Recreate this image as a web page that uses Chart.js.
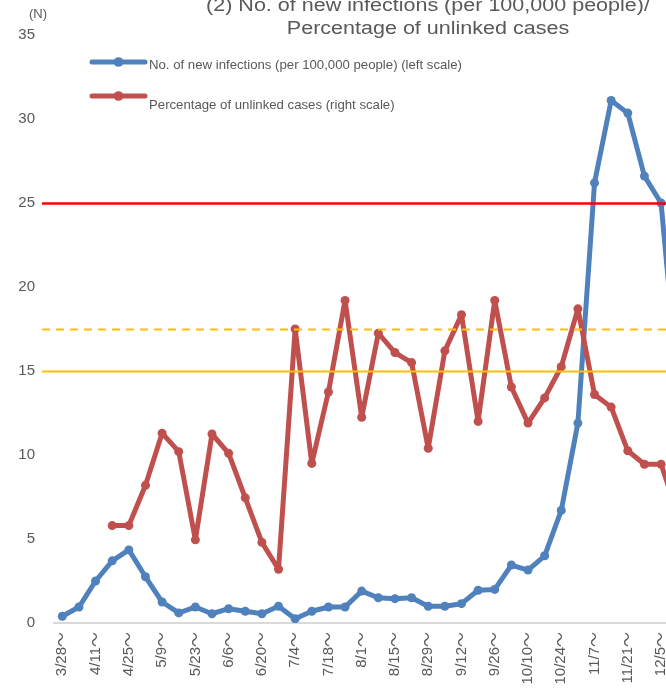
<!DOCTYPE html>
<html>
<head>
<meta charset="utf-8">
<script src="https://cdn.jsdelivr.net/npm/chart.js@4/dist/chart.umd.min.js"></script>
<style>
  html, body { margin: 0; padding: 0; background: #ffffff; overflow: hidden; width: 666px; height: 691px; }
  #wrap { position: absolute; left: 0; top: 0; width: 700px; height: 760px; }
</style>
</head>
<body>
<div id="wrap"><canvas id="c" width="700" height="760"></canvas></div>
<script>
// ---- data ----
const weeks = ['3/28～','4/4～','4/11～','4/18～','4/25～','5/2～','5/9～','5/16～','5/23～','5/30～',
  '6/6～','6/13～','6/20～','6/27～','7/4～','7/11～','7/18～','7/25～','8/1～','8/8～',
  '8/15～','8/22～','8/29～','9/5～','9/12～','9/19～','9/26～','10/3～','10/10～','10/17～',
  '10/24～','10/31～','11/7～','11/14～','11/21～','11/28～','12/5～','12/12～'];
const newInfections = [0.4, 0.95, 2.5, 3.7, 4.35, 2.75, 1.25, 0.6, 0.95, 0.55,
  0.85, 0.7, 0.55, 1.0, 0.25, 0.7, 0.95, 0.95, 1.9, 1.5,
  1.45, 1.5, 1.0, 1.0, 1.15, 1.95, 2.0, 3.45, 3.15, 4.0,
  6.7, 11.9, 26.2, 31.1, 30.35, 26.6, 25.0, 14.3];
const unlinkedPct = [null, null, null, 11.6, 11.6, 16.4, 22.6, 20.4, 9.9, 22.5,
  20.2, 14.9, 9.6, 6.4, 35.0, 19.0, 27.5, 38.4, 24.5, 34.5,
  32.2, 31.0, 20.8, 32.4, 36.7, 24.0, 38.4, 28.1, 23.8, 26.8,
  30.5, 37.4, 27.2, 25.7, 20.5, 18.9, 18.9, 13.0];
const leftTicks = [0, 5, 10, 15, 20, 25, 30, 35];
const thresholdValues = [25, 17.5, 15];
const titleLines = ['(2) No. of new infections (per 100,000 people)/', 'Percentage of unlinked cases'];
const legendLabels = ['No. of new infections (per 100,000 people) (left scale)', 'Percentage of unlinked cases (right scale)'];
const unitLabel = '(N)';

// ---- styles ----
const BLUE = '#4F81BD';
const RED = '#C0504D';
const TXT = '#595959';
const thresholdStyles = [
  { color: '#FF0000', width: 2.5, dash: [] },
  { color: '#FFC000', width: 2, dash: [8, 6] },
  { color: '#FFC000', width: 2, dash: [] }
];

const thresholdPlugin = {
  id: 'thresholds',
  afterDatasetsDraw(chart) {
    const ctx = chart.ctx, y = chart.scales.y;
    thresholdValues.forEach((v, i) => {
      const st = thresholdStyles[i];
      const py = Math.round(y.getPixelForValue(v)) + 0.5;
      ctx.save();
      ctx.strokeStyle = st.color;
      ctx.lineWidth = st.width;
      ctx.setLineDash(st.dash);
      ctx.beginPath();
      ctx.moveTo(42, py);
      ctx.lineTo(chart.width, py);
      ctx.stroke();
      ctx.restore();
    });
  }
};

const decorPlugin = {
  id: 'decor',
  afterDraw(chart) {
    const ctx = chart.ctx;
    ctx.save();
    // title
    ctx.fillStyle = TXT;
    ctx.font = '17.5px "Liberation Sans", Arial, sans-serif';
    ctx.textAlign = 'center';
    ctx.textBaseline = 'alphabetic';
    ctx.save();
    ctx.translate(428, 0);
    ctx.scale(1.23, 1);
    ctx.fillText(titleLines[0], 0, 11);
    ctx.fillText(titleLines[1], 0, 34.3);
    ctx.restore();
    // unit label
    ctx.font = '13px "Liberation Sans", Arial, sans-serif';
    ctx.textBaseline = 'middle';
    ctx.fillText(unitLabel, 38, 14);
    // legend
    const items = [
      { color: BLUE, ly: 62, ty: 68.5, text: legendLabels[0] },
      { color: RED, ly: 96, ty: 109, text: legendLabels[1] }
    ];
    items.forEach(it => {
      ctx.strokeStyle = it.color;
      ctx.lineWidth = 5;
      ctx.lineCap = 'round';
      ctx.beginPath();
      ctx.moveTo(92, it.ly);
      ctx.lineTo(145, it.ly);
      ctx.stroke();
      ctx.fillStyle = it.color;
      ctx.beginPath();
      ctx.arc(118.5, it.ly, 4.8, 0, Math.PI * 2);
      ctx.fill();
      ctx.fillStyle = TXT;
      ctx.font = '13.2px "Liberation Sans", Arial, sans-serif';
      ctx.textAlign = 'left';
      ctx.textBaseline = 'alphabetic';
      ctx.fillText(it.text, 149, it.ty);
    });
    ctx.restore();
  }
};

new Chart(document.getElementById('c'), {
  type: 'line',
  data: {
    labels: weeks,
    datasets: [
      {
        label: legendLabels[0],
        data: newInfections,
        yAxisID: 'y',
        borderColor: BLUE,
        backgroundColor: BLUE,
        borderWidth: 5,
        borderJoinStyle: 'round',
        borderCapStyle: 'round',
        pointRadius: 4.5,
        pointBorderWidth: 0,
        pointBackgroundColor: BLUE,
        tension: 0,
        order: 2
      },
      {
        label: legendLabels[1],
        data: unlinkedPct,
        yAxisID: 'y1',
        borderColor: RED,
        backgroundColor: RED,
        borderWidth: 5,
        borderJoinStyle: 'round',
        borderCapStyle: 'round',
        pointRadius: 4.5,
        pointBorderWidth: 0,
        pointBackgroundColor: RED,
        tension: 0,
        spanGaps: false,
        order: 1
      }
    ]
  },
  options: {
    responsive: false,
    animation: false,
    devicePixelRatio: 1,
    layout: { padding: { top: 35, right: 14, left: 1, bottom: 0 } },
    plugins: {
      legend: { display: false },
      title: { display: false },
      tooltip: { enabled: false }
    },
    scales: {
      x: {
        type: 'category',
        offset: true,
        grid: { display: false, drawTicks: false },
        border: { display: true, color: '#D9D9D9', width: 2 },
        ticks: {
          autoSkip: false,
          minRotation: 90,
          maxRotation: 90,
          padding: 9,
          color: TXT,
          font: { family: '"Liberation Sans", "Noto Sans CJK JP", Arial, sans-serif', size: 15 },
          callback: function(value, index) { return index % 2 === 0 ? weeks[index] : ''; }
        },
        afterFit(s) { s.height = 137; s.paddingLeft = 0; s.paddingRight = 0; }
      },
      y: {
        position: 'left',
        min: 0,
        max: 35,
        afterBuildTicks(s) { s.ticks = leftTicks.map(v => ({ value: v })); },
        grid: { display: false, drawTicks: false },
        border: { display: false },
        ticks: {
          padding: 19,
          color: TXT,
          font: { family: '"Liberation Sans", Arial, sans-serif', size: 15 }
        },
        afterFit(s) { s.width = 53; s.paddingTop = 0; s.paddingBottom = 0; }
      },
      y1: {
        position: 'right',
        display: false,
        min: 0,
        max: 70
      }
    }
  },
  plugins: [thresholdPlugin, decorPlugin]
});
</script>
</body>
</html>
